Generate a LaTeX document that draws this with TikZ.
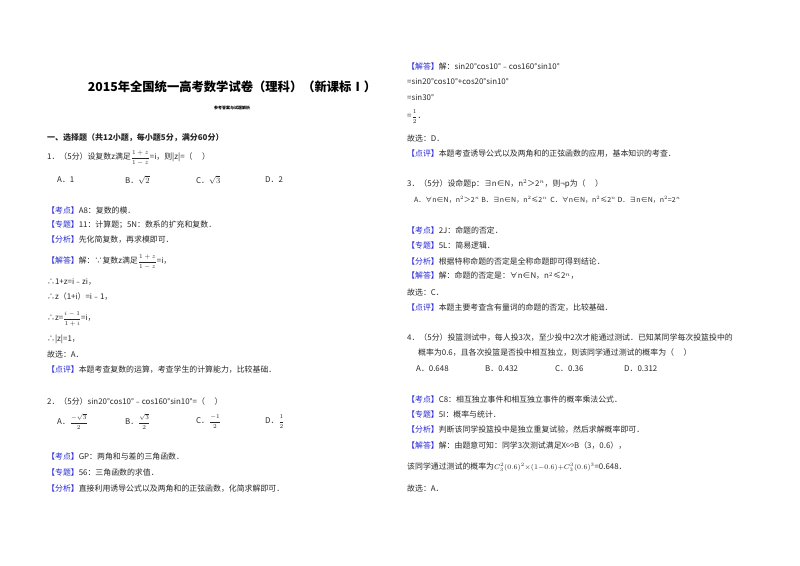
\documentclass[tikz,border=0pt]{standalone}
\usepackage{fontspec}
\setmainfont{Noto Sans CJK SC}
\definecolor{tagblue}{RGB}{40,40,210}
\definecolor{ink}{RGB}{40,40,40}
\newcommand{\tg}[1]{\textcolor{tagblue}{【#1】}}
\newcommand{\fr}[2]{{\fontsize{6}{6}\selectfont$\displaystyle\frac{#1}{#2}$}}
\newcommand{\Ln}[4]{\node[txt] (#1) at (#2,#3) {#4};}
\begin{document}
\begin{tikzpicture}[x=1pt,y=-1pt,txt/.style={anchor=west,inner sep=0pt,font=\fontsize{7.9}{9}\selectfont,text=ink}]
\useasboundingbox[fill=white] (0,0) rectangle (800,565);
\node[inner sep=0pt,font=\fontsize{12.3}{14}\bfseries\selectfont] (title) at (232,87) {2015年全国统一高考数学试卷（理科）（新课标Ⅰ）};
\node[inner sep=0pt,font=\fontsize{4}{4}\bfseries\selectfont] (sub) at (232,108) {参考答案与试题解析};
\node[txt,font=\fontsize{8}{9}\bfseries\selectfont] (sec) at (47,138) {一、选择题（共12小题，每小题5分，满分60分）};
\Ln{q1}{47}{158}{1．（5分）设复数z满足\fr{1+z}{1-z}=i，则|z|=（\quad\ ）}
\Ln{q1a}{57}{180}{A．1}
\Ln{q1b}{125}{180}{B．$\sqrt{2}$}
\Ln{q1c}{196}{180}{C．$\sqrt{3}$}
\Ln{q1d}{265}{180}{D．2}
\Ln{k1}{47}{210}{\tg{考点}A8：复数的模．}
\Ln{z1}{47}{225}{\tg{专题}11：计算题；5N：数系的扩充和复数．}
\Ln{f1}{47}{240}{\tg{分析}先化简复数，再求模即可．}
\Ln{j1}{47}{262}{\tg{解答}解：∵复数z满足\fr{1+z}{1-z}=i，}
\Ln{s1}{47}{282}{∴1+z=i﹣zi，}
\Ln{s2}{47}{297}{∴z（1+i）=i﹣1，}
\Ln{s3}{47}{319}{∴z=\fr{i-1}{1+i}=i，}
\Ln{s4}{47}{339}{∴|z|=1，}
\Ln{g1}{47}{354}{故选：A．}
\Ln{d1}{47}{370}{\tg{点评}本题考查复数的运算，考查学生的计算能力，比较基础．}
\Ln{q2}{47}{401}{2．（5分）sin20°cos10°﹣cos160°sin10°=（\quad\ ）}
\Ln{q2a}{57}{422}{A．\fr{-\sqrt{3}}{2}}
\Ln{q2b}{125}{422}{B．\fr{\sqrt{3}}{2}}
\Ln{q2c}{196}{422}{C．\fr{-1}{2}}
\Ln{q2d}{265}{422}{D．\fr{1}{2}}
\Ln{k2}{47}{456}{\tg{考点}GP：两角和与差的三角函数．}
\Ln{z2}{47}{472}{\tg{专题}56：三角函数的求值．}
\Ln{f2}{47}{489}{\tg{分析}直接利用诱导公式以及两角和的正弦函数，化简求解即可．}
\Ln{j2}{407}{66}{\tg{解答}解：sin20°cos10°﹣cos160°sin10°}
\Ln{t1}{407}{81}{=sin20°cos10°+cos20°sin10°}
\Ln{t2}{407}{97}{=sin30°}
\Ln{t3}{407}{117}{=\fr{1}{2}．}
\Ln{g2}{407}{138}{故选：D．}
\Ln{d2}{407}{154}{\tg{点评}本题考查诱导公式以及两角和的正弦函数的应用，基本知识的考查．}
\Ln{q3}{407}{184}{3．（5分）设命题p：∃n∈N，n$^2$＞2$^n$，则¬p为（\quad\ ）}
\Ln{q3o}{414}{200}{\fontsize{7}{8}\selectfont A．∀n∈N，n$^2$＞2$^n$\ B．∃n∈N，n$^2$≤2$^n$\ \ C．∀n∈N，n$^2$≤2$^n$\ D．∃n∈N，n$^2$=2$^n$}
\Ln{k3}{407}{230}{\tg{考点}2J：命题的否定．}
\Ln{z3}{407}{245}{\tg{专题}5L：简易逻辑．}
\Ln{f3}{407}{261}{\tg{分析}根据特称命题的否定是全称命题即可得到结论．}
\Ln{j3}{407}{276}{\tg{解答}解：命题的否定是：∀n∈N，n$^2$≤2$^n$，}
\Ln{g3}{407}{292}{故选：C．}
\Ln{d3}{407}{308}{\tg{点评}本题主要考查含有量词的命题的否定，比较基础．}
\Ln{q4}{407}{338}{4．（5分）投篮测试中，每人投3次，至少投中2次才能通过测试．已知某同学每次投篮投中的}
\Ln{q4b}{418}{353}{概率为0.6，且各次投篮是否投中相互独立，则该同学通过测试的概率为（\quad\ ）}
\Ln{q4a}{416}{369}{A．0.648}
\Ln{q4bb}{485}{369}{B．0.432}
\Ln{q4c}{555}{369}{C．0.36}
\Ln{q4d}{624}{369}{D．0.312}
\Ln{k4}{407}{399}{\tg{考点}C8：相互独立事件和相互独立事件的概率乘法公式．}
\Ln{z4}{407}{414}{\tg{专题}5I：概率与统计．}
\Ln{f4}{407}{430}{\tg{分析}判断该同学投篮投中是独立重复试验，然后求解概率即可．}
\Ln{j4}{407}{446}{\tg{解答}解：由题意可知：同学3次测试满足X∽B（3，0.6），}
\Ln{u1}{407}{467}{该同学通过测试的概率为{\fontsize{7}{8}\selectfont$C_3^2(0.6)^2{\times}(1{-}0.6){+}C_3^3(0.6)^3$}=0.648．}
\Ln{g4}{407}{488}{故选：A．}
\end{tikzpicture}
\end{document}
